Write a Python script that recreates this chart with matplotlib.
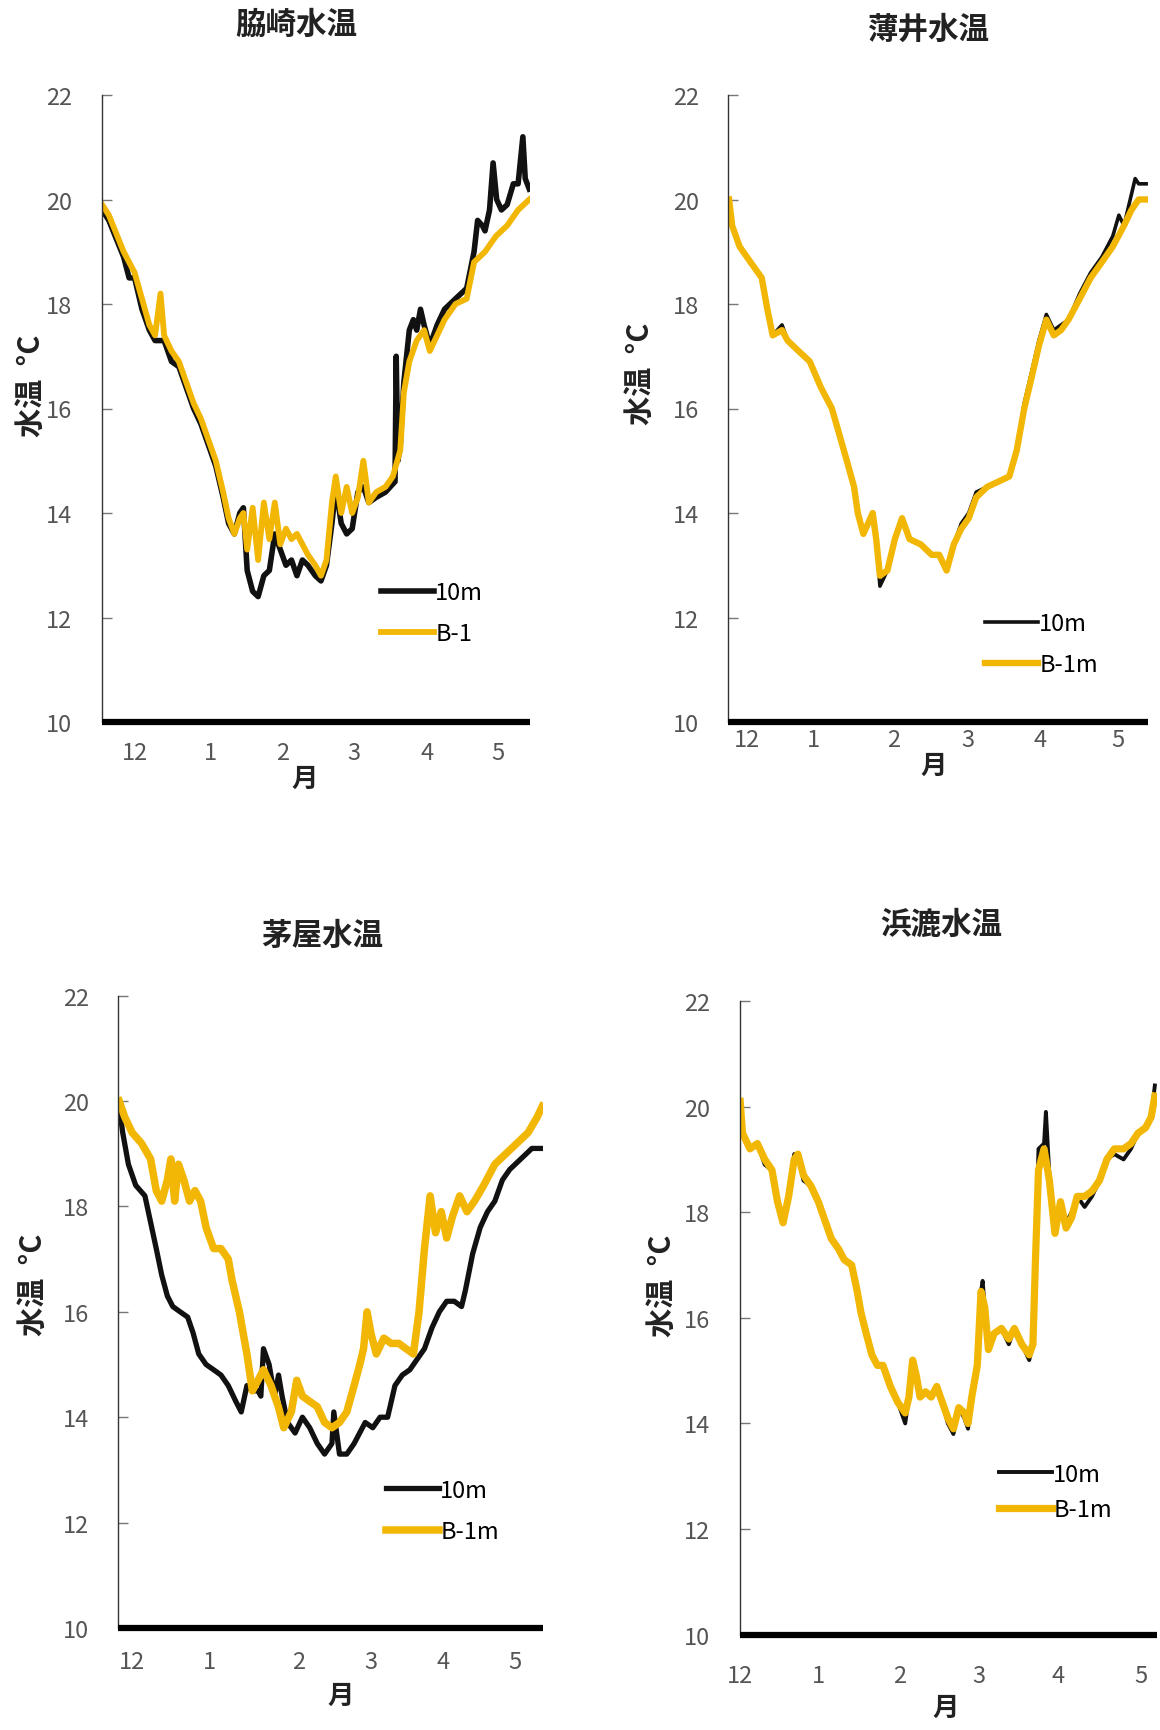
import matplotlib
matplotlib.use("Agg")
import matplotlib.pyplot as plt

plt.rcParams['font.family'] = ['Noto Sans CJK JP', 'DejaVu Sans']

W, H = 1160, 1731
BLACK = '#111111'
GOLD = '#F2B705'
TICK_GRAY = '#555555'

months = ['12', '1', '2', '3', '4', '5']
y_ticks = [10, 12, 14, 16, 18, 20, 22]

# ---- 脇崎 ----
wakisaki_month_pos = [14.0, 45.7, 76.0, 106.2, 136.6, 166.5]
wakisaki_10m_day = [0.3, 3.1, 9.3, 11.6, 13.9, 17.0, 20.1, 22.5, 24.8, 26.3, 29.4, 32.5, 35.6, 38.7,
                    41.8, 44.9, 48.0, 51.1, 53.4, 55.8, 58.1, 59.6, 61.2, 63.5, 65.8, 68.2, 70.5, 72.8,
                    75.1, 77.5, 79.8, 82.1, 84.4, 86.7, 89.8, 92.2, 94.5, 96.8, 98.4, 100.7, 103.0,
                    105.3, 107.7, 110.0, 112.3, 115.4, 119.3, 123.3, 123.8, 124.5, 125.5, 127.0, 129.3,
                    131.0, 132.4, 134.0, 135.5, 137.9, 141.0, 144.1, 148.7, 153.4, 156.5, 158.0, 160.0,
                    161.1, 163.0, 164.5, 166.0, 168.0, 170.4, 173.0, 175.0, 177.0, 178.0, 179.7]
wakisaki_10m = [19.8, 19.6, 18.9, 18.5, 18.5, 17.9, 17.5, 17.3, 17.3, 17.3, 16.9, 16.8, 16.4, 16.0,
                15.7, 15.3, 14.9, 14.3, 13.8, 13.6, 14.0, 14.1, 12.9, 12.5, 12.4, 12.8, 12.9, 13.6,
                13.3, 13.0, 13.1, 12.8, 13.1, 13.0, 12.8, 12.7, 13.0, 13.8, 14.5, 13.8, 13.6,
                13.7, 14.4, 14.5, 14.2, 14.3, 14.4, 14.6, 17.0, 15.0, 15.3, 16.5, 17.5,
                17.7, 17.5, 17.9, 17.6, 17.2, 17.6, 17.9, 18.1, 18.3, 19.0, 19.6, 19.5,
                19.4, 19.8, 20.7, 20.0, 19.8, 19.9, 20.3, 20.3, 21.2, 20.4, 20.2]
wakisaki_b1_day = [0.3, 3.1, 9.3, 11.6, 13.9, 17.0, 20.1, 22.5, 24.8, 26.3, 29.4, 32.5, 35.6, 38.7,
                   41.8, 44.9, 48.0, 51.1, 53.4, 55.8, 58.1, 59.6, 61.2, 63.5, 65.8, 68.2, 70.5, 72.8,
                   75.1, 77.5, 79.8, 82.1, 84.4, 86.7, 89.8, 92.2, 94.5, 96.8, 98.4, 100.7, 103.0,
                   105.3, 107.7, 110.0, 112.3, 115.4, 119.3, 122.4, 125.5, 127.0, 129.3, 132.4, 135.5,
                   137.9, 141.0, 144.1, 148.7, 153.4, 156.5, 161.1, 165.7, 170.4, 175.0, 179.7]
wakisaki_b1 = [19.9, 19.7, 19.0, 18.8, 18.6, 18.1, 17.6, 17.4, 18.2, 17.4, 17.1, 16.9, 16.5, 16.1,
               15.8, 15.4, 15.0, 14.4, 13.9, 13.6, 13.9, 14.0, 13.3, 14.1, 13.1, 14.2, 13.5, 14.2,
               13.4, 13.7, 13.5, 13.6, 13.4, 13.2, 13.0, 12.8, 13.1, 14.2, 14.7, 14.0, 14.5,
               14.0, 14.3, 15.0, 14.2, 14.4, 14.5, 14.7, 15.2, 16.3, 16.9, 17.3, 17.5,
               17.1, 17.4, 17.7, 18.0, 18.1, 18.8, 19.0, 19.3, 19.5, 19.8, 20.0]

# ---- 薄井 ----
usui_month_pos = [8.1, 36.5, 70.7, 102.8, 133.7, 167.0]
usui_10m_day = [0.3, 1.6, 4.8, 9.5, 14.3, 16.7, 19.0, 23.0, 25.4, 30.1, 34.9, 39.7, 44.4, 47.6, 50.8,
                53.9, 55.5, 57.9, 61.9, 63.4, 65.0, 68.2, 71.4, 74.5, 77.7, 82.5, 87.2, 90.4, 93.6,
                96.7, 99.9, 103.1, 106.3, 111.0, 115.8, 120.5, 123.7, 126.9, 130.1, 133.2, 136.4,
                139.6, 142.7, 145.9, 150.7, 155.4, 160.2, 164.9, 167.5, 169.7, 172.9, 174.5, 176.0, 179.2]
usui_10m = [19.9, 19.5, 19.1, 18.8, 18.5, 17.9, 17.4, 17.6, 17.3, 17.1, 16.9, 16.4, 16.0, 15.5, 15.0,
            14.5, 14.0, 13.6, 14.0, 13.5, 12.6, 12.9, 13.5, 13.9, 13.5, 13.4, 13.2, 13.2, 12.9,
            13.4, 13.8, 14.0, 14.4, 14.5, 14.6, 14.7, 15.2, 16.1, 16.7, 17.3, 17.8,
            17.5, 17.6, 17.7, 18.2, 18.6, 18.9, 19.3, 19.7, 19.5, 20.1, 20.4, 20.3, 20.3]
usui_b1m_day = [0.3, 1.6, 4.8, 9.5, 14.3, 16.7, 19.0, 23.0, 25.4, 30.1, 34.9, 39.7, 44.4, 47.6, 50.8,
                53.9, 55.5, 57.9, 61.9, 63.4, 65.0, 68.2, 71.4, 74.5, 77.7, 82.5, 87.2, 90.4, 93.6,
                96.7, 99.9, 103.1, 106.3, 111.0, 115.8, 120.5, 123.7, 126.9, 130.1, 133.2, 136.4,
                139.6, 142.7, 145.9, 150.7, 155.4, 160.2, 164.9, 169.7, 172.9, 176.0, 179.2]
usui_b1m = [20.0, 19.5, 19.1, 18.8, 18.5, 17.9, 17.4, 17.5, 17.3, 17.1, 16.9, 16.4, 16.0, 15.5, 15.0,
            14.5, 14.0, 13.6, 14.0, 13.5, 12.8, 12.9, 13.5, 13.9, 13.5, 13.4, 13.2, 13.2, 12.9,
            13.4, 13.7, 13.9, 14.3, 14.5, 14.6, 14.7, 15.2, 16.0, 16.6, 17.2, 17.7,
            17.4, 17.5, 17.7, 18.1, 18.5, 18.8, 19.1, 19.5, 19.8, 20.0, 20.0]

# ---- 茅屋 ----
kayanoya_month_pos = [6.1, 38.7, 76.5, 107.3, 137.7, 168.1]
kayanoya_10m_day = [0.5, 2.0, 4.4, 7.5, 11.4, 13.8, 16.2, 18.5, 20.9, 23.2, 26.3, 29.5, 31.8, 34.2,
                    37.3, 40.5, 43.6, 46.7, 49.9, 52.2, 54.6, 56.9, 59.3, 60.5, 61.6, 64.0, 66.3, 68.0,
                    69.5, 71.8, 75.0, 78.1, 81.2, 84.4, 87.5, 90.6, 91.4, 93.8, 96.9, 100.0, 104.7,
                    107.9, 111.0, 114.2, 117.3, 120.4, 123.6, 126.7, 129.8, 133.0, 136.1, 139.2, 142.4,
                    145.5, 147.1, 150.2, 153.4, 156.5, 159.6, 162.8, 165.9, 170.6, 175.3, 179.7]
kayanoya_10m = [19.9, 19.4, 18.8, 18.4, 18.2, 17.7, 17.2, 16.7, 16.3, 16.1, 16.0, 15.9, 15.6, 15.2,
                15.0, 14.9, 14.8, 14.6, 14.3, 14.1, 14.6, 14.5, 14.5, 14.4, 15.3, 15.0, 14.4, 14.8,
                14.4, 13.9, 13.7, 14.0, 13.8, 13.5, 13.3, 13.5, 14.1, 13.3, 13.3, 13.5, 13.9,
                13.8, 14.0, 14.0, 14.6, 14.8, 14.9, 15.1, 15.3, 15.7, 16.0, 16.2, 16.2,
                16.1, 16.4, 17.1, 17.6, 17.9, 18.1, 18.5, 18.7, 18.9, 19.1, 19.1]
kayanoya_b1m_day = [0.5, 2.8, 6.0, 9.9, 13.8, 16.2, 18.5, 20.9, 22.4, 24.0, 25.6, 27.9, 30.3, 32.6,
                    35.0, 37.3, 40.5, 43.6, 46.7, 48.3, 51.4, 54.6, 56.9, 59.3, 61.6, 64.8, 67.9, 70.2,
                    73.4, 75.7, 78.1, 81.2, 84.4, 87.5, 90.6, 93.8, 96.9, 100.0, 102.4, 104.0, 105.5,
                    107.1, 109.4, 112.6, 115.7, 118.9, 122.0, 125.1, 127.5, 129.8, 132.2, 134.5, 136.9,
                    139.2, 141.6, 144.7, 147.8, 151.0, 154.9, 159.6, 164.3, 169.0, 173.7, 177.6, 179.7]
kayanoya_b1m = [20.0, 19.7, 19.4, 19.2, 18.9, 18.3, 18.1, 18.5, 18.9, 18.1, 18.8, 18.5, 18.1, 18.3,
                18.1, 17.6, 17.2, 17.2, 17.0, 16.6, 16.0, 15.2, 14.5, 14.7, 14.9, 14.6, 14.2, 13.8,
                14.1, 14.7, 14.4, 14.3, 14.2, 13.9, 13.8, 13.9, 14.1, 14.6, 15.0, 15.3, 16.0,
                15.6, 15.2, 15.5, 15.4, 15.4, 15.3, 15.2, 16.0, 17.2, 18.2, 17.5, 17.9,
                17.4, 17.8, 18.2, 17.9, 18.1, 18.4, 18.8, 19.0, 19.2, 19.4, 19.7, 19.9]

# ---- 浜漉 ----
hamakoshi_month_pos = [0.0, 34.2, 69.1, 103.3, 137.5, 173.3]
hamakoshi_10m_day = [0.3, 1.3, 4.5, 7.7, 10.9, 14.0, 16.4, 18.8, 21.2, 23.6, 25.2, 27.6, 30.8, 34.0,
                     37.2, 39.6, 42.8, 45.2, 48.4, 50.8, 52.4, 54.7, 57.1, 59.5, 61.9, 65.1, 68.3, 71.5,
                     73.1, 74.7, 76.3, 77.9, 80.3, 82.7, 85.1, 87.5, 89.9, 92.3, 94.6, 97.0, 98.6,
                     100.2, 102.6, 104.2, 104.9, 105.8, 107.4, 109.8, 113.0, 116.2, 118.6, 121.8, 125.0,
                     126.6, 127.7, 129.0, 131.4, 132.2, 133.7, 136.1, 138.5, 140.9, 143.3, 145.7, 148.9,
                     152.1, 155.3, 158.5, 161.7, 165.7, 168.9, 172.0, 175.2, 177.6, 179.2]
hamakoshi_10m = [19.6, 19.5, 19.2, 19.3, 18.9, 18.8, 18.2, 17.8, 18.3, 19.1, 19.1, 18.6, 18.5, 18.2,
                 17.8, 17.5, 17.3, 17.1, 17.0, 16.5, 16.1, 15.7, 15.3, 15.1, 15.1, 14.7, 14.4, 14.0,
                 14.5, 15.2, 14.9, 14.5, 14.6, 14.5, 14.7, 14.4, 14.0, 13.8, 14.3, 14.1, 13.9,
                 14.5, 15.1, 16.5, 16.7, 16.2, 15.4, 15.7, 15.8, 15.5, 15.8, 15.5, 15.2,
                 15.5, 17.1, 19.2, 19.3, 19.9, 18.7, 17.6, 18.2, 17.8, 18.0, 18.3, 18.1,
                 18.3, 18.6, 19.0, 19.1, 19.0, 19.2, 19.5, 19.6, 19.8, 20.4]
hamakoshi_b1m_day = [0.3, 1.3, 4.5, 7.7, 10.9, 14.0, 16.4, 18.8, 21.2, 23.6, 25.2, 27.6, 30.8, 34.0,
                     37.2, 39.6, 42.8, 45.2, 48.4, 50.8, 52.4, 54.7, 57.1, 59.5, 61.9, 65.1, 68.3, 71.5,
                     73.1, 74.7, 76.3, 77.9, 80.3, 82.7, 85.1, 87.5, 89.9, 92.3, 94.6, 97.0, 98.6,
                     100.2, 102.6, 104.2, 105.8, 107.4, 109.8, 113.0, 116.2, 118.6, 121.8, 125.0,
                     126.6, 127.7, 129.0, 131.4, 133.7, 136.1, 138.5, 140.9, 143.3, 145.7, 148.9,
                     152.1, 155.3, 158.5, 161.7, 165.7, 168.9, 172.0, 175.2, 177.6, 179.2]
hamakoshi_b1m = [20.1, 19.5, 19.2, 19.3, 19.0, 18.8, 18.2, 17.8, 18.3, 19.0, 19.1, 18.7, 18.5, 18.2,
                 17.8, 17.5, 17.3, 17.1, 17.0, 16.5, 16.1, 15.7, 15.3, 15.1, 15.1, 14.7, 14.4, 14.2,
                 14.5, 15.2, 14.9, 14.5, 14.6, 14.5, 14.7, 14.4, 14.1, 13.9, 14.3, 14.2, 14.0,
                 14.5, 15.1, 16.5, 16.2, 15.4, 15.7, 15.8, 15.6, 15.8, 15.5, 15.3,
                 15.5, 17.1, 18.8, 19.2, 18.6, 17.6, 18.2, 17.7, 17.9, 18.3, 18.3,
                 18.4, 18.6, 19.0, 19.2, 19.2, 19.3, 19.5, 19.6, 19.8, 20.2]

# Panel layout in pixels: axes box (left, top, right, bottom), title, labels, legend
panels = [
    dict(title='脇崎水温', box=(101.5, 96, 530, 723), title_xy=(296, 25),
         ylab_xy=(31, 386), xlab_xy=(305, 779), xpad=14,
         month_pos=wakisaki_month_pos,
         d10=wakisaki_10m_day, v10=wakisaki_10m, db=wakisaki_b1_day, vb=wakisaki_b1,
         lab_b='B-1', lw10=4.0, lwb=4.2, leg_xy=(381, 614), leg_sp=0.75),
    dict(title='薄井水温', box=(728.4, 96, 1148, 723), title_xy=(928, 30),
         ylab_xy=(640, 374), xlab_xy=(934, 766), xpad=4,
         month_pos=usui_month_pos,
         d10=usui_10m_day, v10=usui_10m, db=usui_b1m_day, vb=usui_b1m,
         lab_b='B-1m', lw10=2.6, lwb=4.6, leg_xy=(985, 645), leg_sp=0.75),
    dict(title='茅屋水温', box=(118, 996.6, 543, 1629), title_xy=(322, 936),
         ylab_xy=(33, 1285), xlab_xy=(341, 1696), xpad=16,
         month_pos=kayanoya_month_pos,
         d10=kayanoya_10m_day, v10=kayanoya_10m, db=kayanoya_b1m_day, vb=kayanoya_b1m,
         lab_b='B-1m', lw10=3.8, lwb=5.4, leg_xy=(386, 1512), leg_sp=0.8),
    dict(title='浜漉水温', box=(739.5, 1002, 1156.7, 1635.7), title_xy=(941, 925),
         ylab_xy=(662, 1286), xlab_xy=(946, 1708), xpad=21,
         month_pos=hamakoshi_month_pos,
         d10=hamakoshi_10m_day, v10=hamakoshi_10m, db=hamakoshi_b1m_day, vb=hamakoshi_b1m,
         lab_b='B-1m', lw10=2.8, lwb=5.2, leg_xy=(999, 1493), leg_sp=0.55),
]

fig = plt.figure(figsize=(W / 100, H / 100), dpi=100)
fig.patch.set_facecolor('white')


def fx(px):
    return px / W


def fy(py):
    return 1 - py / H


for p in panels:
    l, t, r, b = p['box']
    ax = fig.add_axes([fx(l), fy(b), (r - l) / W, (b - t) / H])
    ax.plot(p['d10'], p['v10'], color=BLACK, lw=p['lw10'], label='10m', solid_joinstyle='round')
    ax.plot(p['db'], p['vb'], color=GOLD, lw=p['lwb'], label=p['lab_b'], solid_joinstyle='round')
    ax.set_xlim(0, 180)
    ax.set_ylim(10, 22)
    ax.set_yticks(y_ticks)
    ax.set_xticks(p['month_pos'], months)
    ax.tick_params(axis='y', direction='in', length=7, width=1, color='#777777',
                   labelcolor=TICK_GRAY, labelsize=17, pad=21)
    ax.tick_params(axis='x', length=0, labelcolor=TICK_GRAY, labelsize=17, pad=p['xpad'])
    for side in ('top', 'right'):
        ax.spines[side].set_visible(False)
    ax.spines['left'].set_color('#333333')
    ax.spines['left'].set_linewidth(1.0)
    ax.spines['bottom'].set_color('black')
    ax.spines['bottom'].set_linewidth(4.5)
    ax.spines['bottom'].set_capstyle('butt')

    ax.legend(loc='center left', bbox_to_anchor=(fx(p['leg_xy'][0]), fy(p['leg_xy'][1])),
              bbox_transform=fig.transFigure, frameon=False, fontsize=17,
              handlelength=2.25, handletextpad=0.05, labelspacing=p['leg_sp'],
              borderpad=0, borderaxespad=0)

    fig.text(fx(p['title_xy'][0]), fy(p['title_xy'][1]), p['title'], ha='center', va='center',
             fontsize=22, fontweight='bold', color='#222222')
    fig.text(fx(p['ylab_xy'][0]), fy(p['ylab_xy'][1]), '水温  °C', rotation=90,
             ha='center', va='center', fontsize=21, fontweight='bold', color='#222222')
    fig.text(fx(p['xlab_xy'][0]), fy(p['xlab_xy'][1]), '月', ha='center', va='center',
             fontsize=19, fontweight='bold', color='#222222')

fig.savefig('out.png', dpi=100, facecolor='white')
